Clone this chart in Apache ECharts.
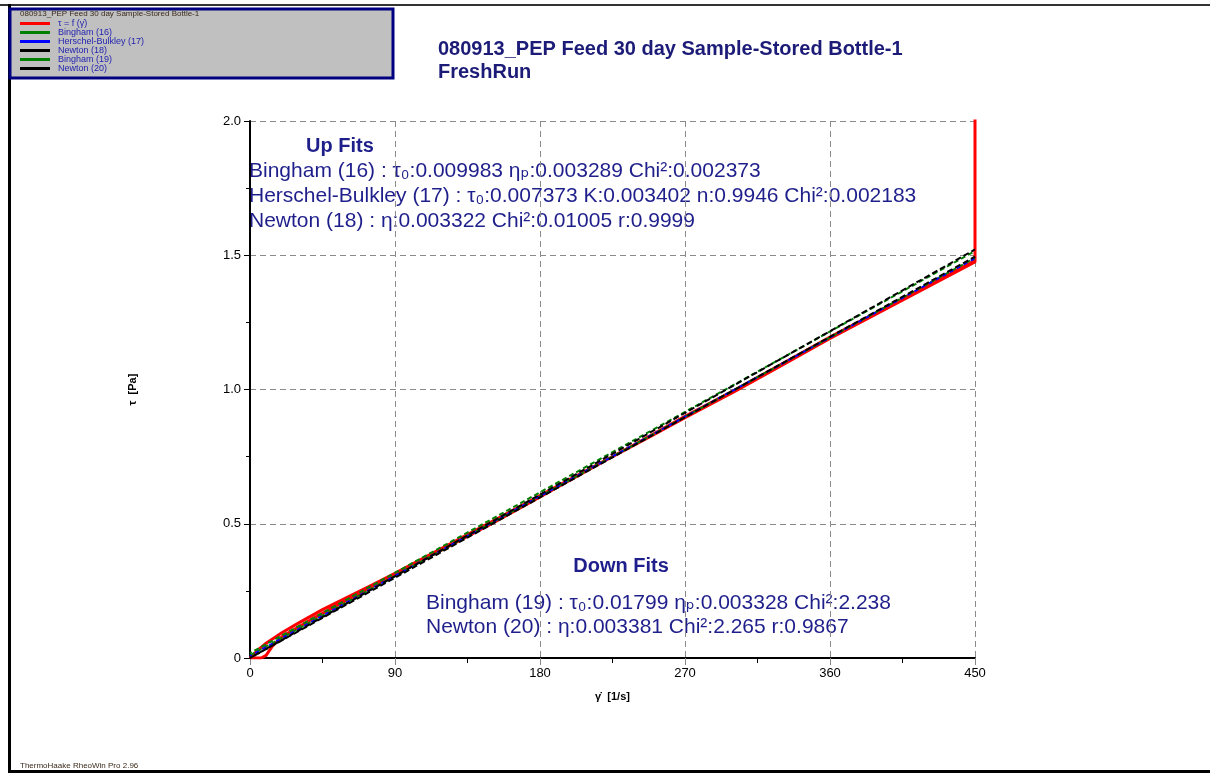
<!DOCTYPE html>
<html>
<head>
<meta charset="utf-8">
<script src="https://cdn.jsdelivr.net/npm/echarts@6/dist/echarts.min.js"></script>
<style>
  html, body { margin: 0; padding: 0; background: #fff; }
  #chart { width: 1210px; height: 773px; }
</style>
</head>
<body>
<div id="chart"></div>
<script>
// Measured flow curve: shear rate (1/s) vs shear stress (Pa), up ramp then down ramp
const rampUp = [
  [0, 0.0], [5, 0.03], [10, 0.055], [20, 0.095], [30, 0.13], [45, 0.18],
  [60, 0.225], [75, 0.27], [90, 0.315], [110, 0.38], [135, 0.46],
  [160, 0.54], [180, 0.605], [200, 0.67], [225, 0.75], [250, 0.83],
  [270, 0.895], [300, 0.99], [330, 1.09], [360, 1.19], [390, 1.285],
  [420, 1.38], [450, 1.475]
];
const rampDown = [
  [450, 2.6], [450, 1.48], [420, 1.385], [390, 1.29], [360, 1.195],
  [330, 1.095], [300, 0.995], [270, 0.9], [240, 0.8], [210, 0.7],
  [180, 0.6], [150, 0.5], [120, 0.405], [90, 0.31], [60, 0.215],
  [40, 0.15], [20, 0.08], [14, 0.045], [10, 0.01], [7, 0.0], [0, 0.0]
];
// Fit curves (values at the listed shear rates)
const bingham16 = [[0, 0.0100], [450, 1.4900]];
const herschel17 = [[0, 0.0074], [20, 0.0744], [90, 0.3062], [180, 0.6028], [270, 0.8986], [360, 1.1937], [450, 1.4886]];
const newton18 = [[0, 0.0], [450, 1.4949]];
const bingham19 = [[0, 0.0180], [450, 1.5156]];
const newton20 = [[0, 0.0], [450, 1.5215]];

const seriesNames = ['τ = f (γ̇)', 'Bingham (16)', 'Herschel-Bulkley (17)', 'Newton (18)', 'Bingham (19)', 'Newton (20)'];
const xTicks = [0, 90, 180, 270, 360, 450];
const yTicks = [0, 0.5, 1.0, 1.5, 2.0];

const chartTitle = ['080913_PEP Feed 30 day Sample-Stored Bottle-1', 'FreshRun'];
const upFits = [
  'Bingham (16) : τ₀:0.009983 ηₚ:0.003289 Chi²:0.002373',
  'Herschel-Bulkley (17) : τ₀:0.007373 K:0.003402 n:0.9946 Chi²:0.002183',
  'Newton (18) : η:0.003322 Chi²:0.01005 r:0.9999'
];
const downFits = [
  'Bingham (19) : τ₀:0.01799 ηₚ:0.003328 Chi²:2.238',
  'Newton (20) : η:0.003381 Chi²:2.265 r:0.9867'
];

const NAVY = '#1f1f8c';
const SANS = '"Liberation Sans", Arial, "DejaVu Sans", sans-serif';
const NARROW = '"Liberation Sans Narrow", "Liberation Sans", Arial, sans-serif';

const chart = echarts.init(document.getElementById('chart'), null, { renderer: 'canvas' });

function fitLine(name, data, color, dash, offset, z) {
  return {
    name: name, type: 'line', data: data, showSymbol: false, symbol: 'none',
    clip: true, z: z,
    itemStyle: { color: color },
    lineStyle: { color: color, width: 2, type: dash, dashOffset: offset }
  };
}

const graphics = [
  // page frame
  { type: 'rect', shape: { x: 0, y: 4, width: 1210, height: 2 }, style: { fill: '#333' }, silent: true },
  { type: 'rect', shape: { x: 8, y: 4, width: 3, height: 769 }, style: { fill: '#000' }, silent: true },
  { type: 'rect', shape: { x: 8, y: 770, width: 1202, height: 3 }, style: { fill: '#000' }, silent: true },
  // legend panel
  { type: 'rect', shape: { x: 10, y: 9, width: 383, height: 69 },
    style: { fill: '#c0c0c0', stroke: '#000080', lineWidth: 3 }, z: 0, silent: true },
  { type: 'text', x: 20, y: 10,
    style: { text: chartTitle[0], font: '8px ' + SANS, fill: '#3a2a1a' }, z: 5, silent: true },
  // chart title
  { type: 'text', x: 438, y: 38,
    style: { text: chartTitle[0] + '\n' + chartTitle[1], font: 'bold 20px ' + SANS, fill: '#1c1c78', lineHeight: 23 }, silent: true },
  // fit summaries
  { type: 'text', x: 340, y: 146, style: { text: 'Up Fits', font: 'bold 20px ' + SANS, fill: NAVY, align: 'center', verticalAlign: 'middle' }, silent: true },
  { type: 'text', x: 249, y: 159, style: { text: upFits.join('\n'), font: '21px ' + SANS, fill: NAVY, lineHeight: 25 }, silent: true },
  { type: 'text', x: 621, y: 566, style: { text: 'Down Fits', font: 'bold 20px ' + SANS, fill: NAVY, align: 'center', verticalAlign: 'middle' }, silent: true },
  { type: 'text', x: 426, y: 591, style: { text: downFits.join('\n'), font: '21px ' + SANS, fill: NAVY, lineHeight: 24 }, silent: true },
  // footer
  { type: 'text', x: 20, y: 762, style: { text: 'ThermoHaake RheoWin Pro 2.96', font: '8px ' + SANS, fill: '#3a2a1a' }, z: -1, silent: true }
];

const option = {
  animation: false,
  backgroundColor: '#fff',
  grid: { left: 250, right: 235, top: 121, bottom: 115, containLabel: false },
  legend: {
    left: 20, top: 19, orient: 'vertical', padding: 0, itemGap: 0,
    itemWidth: 30, itemHeight: 3, icon: 'rect', selectedMode: false,
    data: seriesNames,
    textStyle: { fontSize: 9, lineHeight: 9, color: '#2323b0', fontFamily: SANS, padding: [0, 0, 0, 3] },
    z: 10
  },
  xAxis: {
    type: 'value', min: 0, max: 450, interval: 90,
    name: 'γ̇  [1/s]', nameLocation: 'middle', nameGap: 33,
    nameTextStyle: { fontSize: 11, color: '#000', fontFamily: NARROW, fontWeight: 'bold' },
    axisLine: { show: true, onZero: false, lineStyle: { color: '#000', width: 2 } },
    axisTick: { show: true, inside: false, length: 7, lineStyle: { color: '#888', width: 1 } },
    minorTick: { show: true, splitNumber: 2, length: 5, lineStyle: { color: '#000', width: 1 } },
    axisLabel: { fontSize: 13, color: '#000', fontFamily: NARROW, margin: 9,
      formatter: v => xTicks.indexOf(v) >= 0 ? String(v) : '' },
    splitLine: { show: true, lineStyle: { color: '#8a8a8a', width: 1, type: [6, 4] } }
  },
  yAxis: {
    type: 'value', min: 0, max: 2, interval: 0.5,
    name: 'τ  [Pa]', nameLocation: 'middle', nameGap: 112,
    nameTextStyle: { fontSize: 11, color: '#000', fontFamily: NARROW, fontWeight: 'bold' },
    axisLine: { show: true, onZero: false, lineStyle: { color: '#000', width: 2 } },
    axisTick: { show: true, inside: false, length: 6, lineStyle: { color: '#000', width: 1 } },
    minorTick: { show: true, splitNumber: 2, length: 4, lineStyle: { color: '#000', width: 1 } },
    axisLabel: { fontSize: 13, color: '#000', fontFamily: NARROW, margin: 9,
      formatter: v => yTicks.indexOf(v) >= 0 ? (v === 0 ? '0' : v.toFixed(1)) : '' },
    splitLine: { show: true, lineStyle: { color: '#8a8a8a', width: 1, type: [6, 4] } }
  },
  series: [
    {
      name: seriesNames[0], type: 'line', data: rampUp.concat(rampDown),
      showSymbol: false, symbol: 'none', clip: true, z: 2,
      itemStyle: { color: '#ff0000' },
      lineStyle: { color: '#ff0000', width: 3 }
    },
    fitLine(seriesNames[1], bingham16, '#008000', [5, 3], 0, 3),
    fitLine(seriesNames[2], herschel17, '#0000ff', [4, 4], 2, 3),
    fitLine(seriesNames[3], newton18, '#000000', [6, 3], 4, 4),
    fitLine(seriesNames[4], bingham19, '#008000', [5, 3], 3, 3),
    fitLine(seriesNames[5], newton20, '#000000', [6, 3], 0, 4)
  ],
  graphic: graphics
};

chart.setOption(option);
</script>
</body>
</html>
